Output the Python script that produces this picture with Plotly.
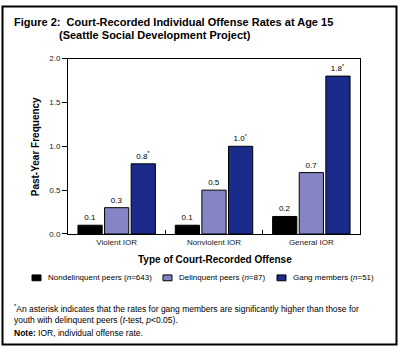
import plotly.graph_objects as go

categories = ["Violent IOR", "Nonviolent IOR", "General IOR"]
series_names = ["Nondelinquent peers (<i>n</i>=643)",
                "Delinquent peers (<i>n</i>=87)",
                "Gang members (<i>n</i>=51)"]
nondelinquent = [0.1, 0.1, 0.2]
delinquent = [0.3, 0.5, 0.7]
gang = [0.8, 1.0, 1.8]
gang_sig = [True, True, True]
y_ticks = [0.0, 0.5, 1.0, 1.5, 2.0]

colors = ["#000000", "#8585c6", "#1a2b8c"]
FONT = "Liberation Sans, Arial, Helvetica, sans-serif"
W, H = 400, 354

def px(x):
    return x / W

def py(y):
    return 1 - y / H

fig = go.Figure()
for name, vals, col, sig in [
    (series_names[0], nondelinquent, colors[0], None),
    (series_names[1], delinquent, colors[1], None),
    (series_names[2], gang, colors[2], gang_sig),
]:
    texts = []
    for i, v in enumerate(vals):
        t = f"{v:.1f}"
        if sig is not None and sig[i]:
            t += "<sup>*</sup>"
        texts.append(t)
    fig.add_trace(go.Bar(
        x=categories, y=vals, name=name,
        marker=dict(color=col, line=dict(color="#000000", width=1)),
        text=texts, textposition="outside", cliponaxis=False,
        textfont=dict(family=FONT, size=8, color="#000000"),
    ))

fig.update_layout(
    width=W, height=H,
    margin=dict(l=0, r=0, t=0, b=0),
    paper_bgcolor="white", plot_bgcolor="white",
    barmode="group", bargap=0.18, bargroupgap=0.09,
    font=dict(family=FONT, size=8, color="#000000"),
    showlegend=False,
    xaxis=dict(domain=[px(68), px(360)], type="category",
               showline=True, linecolor="#000000", linewidth=1, mirror=True,
               ticks="inside", tickson="boundaries", ticklen=4, tickcolor="#000000",
               tickfont=dict(family=FONT, size=8, color="#222222"),
               showgrid=False, zeroline=False),
    yaxis=dict(domain=[py(236), py(56)], range=[0, 2],
               tickvals=y_ticks, tickformat=".1f",
               showline=True, linecolor="#000000", linewidth=1, mirror=True,
               ticks="outside", ticklen=5, tickcolor="#000000",
               tickfont=dict(family=FONT, size=8, color="#222222"),
               showgrid=False, zeroline=False),
)

annotations = [
    dict(text="<b>Figure 2:  Court-Recorded Individual Offense Rates at Age 15</b>",
         x=px(12), y=py(18), xanchor="left", yanchor="middle", font=dict(size=11)),
    dict(text="<b>(Seattle Social Development Project)</b>",
         x=px(57), y=py(32), xanchor="left", yanchor="middle", font=dict(size=11)),
    dict(text="<b>Past-Year Frequency</b>", textangle=-90,
         x=px(35), y=py(147), xanchor="center", yanchor="middle", font=dict(size=10)),
    dict(text="<b>Type of Court-Recorded Offense</b>",
         x=px(215), y=py(262), xanchor="center", yanchor="middle", font=dict(size=10)),
    dict(text="<sup>*</sup>An asterisk indicates that the rates for gang members are significantly higher than those for",
         x=px(12), y=py(312), xanchor="left", yanchor="middle", font=dict(size=8.5)),
    dict(text="youth with delinquent peers (<i>t</i>-test, <i>p</i><0.05).",
         x=px(12), y=py(324), xanchor="left", yanchor="middle", font=dict(size=8.5)),
    dict(text="<b>Note:</b> IOR, individual offense rate.",
         x=px(12), y=py(338), xanchor="left", yanchor="middle", font=dict(size=8.5)),
]

# custom legend
legend_x = [32, 163, 277]
legend_y = 281
for xs, name, col in zip(legend_x, series_names, colors):
    fig.add_shape(type="rect", xref="paper", yref="paper",
                  x0=px(xs), x1=px(xs + 9), y0=py(legend_y - 3), y1=py(legend_y + 3),
                  fillcolor=col, line=dict(color="#000000", width=1))
    annotations.append(dict(text=name, x=px(xs + 14), y=py(legend_y),
                            xanchor="left", yanchor="middle", font=dict(size=8)))

for a in annotations:
    a.update(xref="paper", yref="paper", showarrow=False)
    a["font"]["family"] = FONT
    a["font"]["color"] = "#000000"
fig.update_layout(annotations=annotations)

fig.add_shape(type="rect", xref="paper", yref="paper",
              x0=px(2.5), x1=px(396.5), y0=py(2.5), y1=py(349.5),
              line=dict(color="#000000", width=2), fillcolor="rgba(0,0,0,0)")

fig.write_html("out.html")
